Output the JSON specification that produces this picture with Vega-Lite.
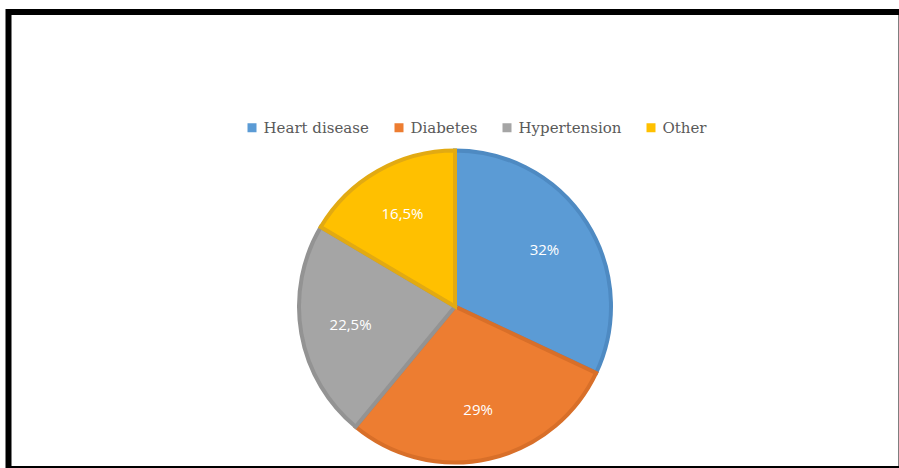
{
  "$schema": "https://vega.github.io/schema/vega-lite/v6.json",
  "autosize": {"type": "fit", "contains": "padding"},
  "width": 899,
  "height": 468,
  "padding": {"left": 8.5, "top": 12, "right": -2.5, "bottom": -1},
  "background": "white",
  "view": {"stroke": "black", "strokeWidth": 6, "fill": "white"},
  "config": {
    "view": {"stroke": "black", "strokeWidth": 6, "fill": "white"}
  },
  "data": {
    "values": [
      {"cause": "Heart disease", "share": 32, "label": "32%"},
      {"cause": "Diabetes", "share": 29, "label": "29%"},
      {"cause": "Hypertension", "share": 22.5, "label": "22,5%"},
      {"cause": "Other", "share": 16.5, "label": "16,5%"}
    ]
  },
  "transform": [{"window": [{"op": "row_number", "as": "idx"}]}],
  "encoding": {
    "theta": {"field": "share", "type": "quantitative", "stack": true},
    "order": {"field": "idx", "type": "quantitative"}
  },
  "layer": [
    {
      "mark": {"type": "arc", "outerRadius": 156, "strokeWidth": 4, "strokeJoin": "miter", "y": {"expr": "height/2 + 66"}},
      "encoding": {
        "color": {
          "field": "cause",
          "type": "nominal",
          "scale": {"domain": ["Heart disease", "Diabetes", "Hypertension", "Other"], "range": ["#5B9BD5", "#ED7D31", "#A5A5A5", "#FFC000"]},
          "legend": {
            "orient": "none",
            "direction": "horizontal",
            "columns": 4,
            "legendX": 236,
            "legendY": 108,
            "title": null,
            "padding": 0,
            "symbolType": "square",
            "symbolSize": 81,
            "symbolStrokeWidth": 0,
            "labelFont": "DejaVu Serif",
            "labelFontSize": 15,
            "labelColor": "#595959",
            "labelOffset": 4,
            "columnPadding": 22
          }
        },
        "stroke": {
          "field": "cause",
          "type": "nominal",
          "scale": {"domain": ["Heart disease", "Diabetes", "Hypertension", "Other"], "range": ["#4E8AC2", "#D86F29", "#939393", "#E2AA12"]},
          "legend": null
        }
      }
    },
    {
      "mark": {"type": "text", "radius": 106, "fontSize": 15, "font": "Open Sans", "fill": "white", "y": {"expr": "height/2 + 66"}},
      "encoding": {"text": {"field": "label"}}
    }
  ]
}
